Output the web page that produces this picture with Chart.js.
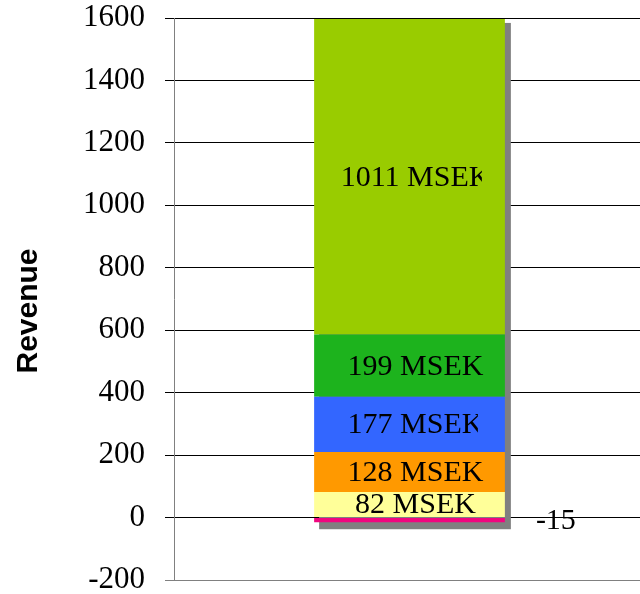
<!DOCTYPE html>
<html>
<head>
<meta charset="utf-8">
<script src="https://cdn.jsdelivr.net/npm/chart.js@4/dist/chart.umd.min.js"></script>
<style>
  html, body { margin: 0; padding: 0; background: #fff; overflow: hidden; }
  #wrap { width: 645px; height: 594px; }
</style>
</head>
<body>
<div id="wrap"><canvas id="c"></canvas></div>
<script>
// Revenue build-up, one stacked column (MSEK)
const categories = [''];
const segmentValues = [-15, 82, 128, 177, 199, 1011];
const segmentColors = ['#F0067F', '#FFFF99', '#FF9900', '#3366FF', '#1DB31D', '#99CC00'];
const yMin = -200;
const yMax = 1600;
const yStep = 200;
const axisTitle = 'Revenue';

function segmentText(v) {
  return v < 0 ? String(v) : v + ' MSEK';
}

// gray drop shadow behind the whole column
const shadowPlugin = {
  id: 'columnShadow',
  beforeDatasetsDraw(chart) {
    const ctx = chart.ctx;
    let top = Infinity, bottom = -Infinity, left = 0, right = 0;
    chart.data.datasets.forEach((ds, i) => {
      const bar = chart.getDatasetMeta(i).data[0];
      if (!bar) return;
      top = Math.min(top, bar.y, bar.base);
      bottom = Math.max(bottom, bar.y, bar.base);
      left = bar.x - bar.width / 2;
      right = bar.x + bar.width / 2;
    });
    ctx.save();
    ctx.fillStyle = '#808080';
    ctx.fillRect(left + 5, top + 4, right - left + 1, bottom - top + 3);
    ctx.restore();
  }
};

// value labels inside each segment; the negative one sits beside the column
const labelPlugin = {
  id: 'segmentLabels',
  afterDatasetsDraw(chart, args, opts) {
    const ctx = chart.ctx;
    ctx.save();
    ctx.font = '30px "Liberation Serif", "Times New Roman", serif';
    ctx.fillStyle = '#000';
    ctx.textAlign = 'center';
    ctx.textBaseline = 'middle';
    chart.data.datasets.forEach((ds, i) => {
      const bar = chart.getDatasetMeta(i).data[0];
      const v = ds.data[0];
      const cy = (bar.y + bar.base) / 2;
      const right = bar.x + bar.width / 2;
      const text = segmentText(v);
      if (v < 0) {
        ctx.fillText(text, right + 51, cy + 1);
        return;
      }
      ctx.save();
      const cut = opts.clipInset[i];
      if (cut) {
        ctx.beginPath();
        ctx.rect(bar.x - bar.width / 2, cy - 30, bar.width - cut, 60);
        ctx.clip();
      }
      ctx.fillText(text, bar.x + 6, cy + 1);
      ctx.restore();
    });
    ctx.restore();
  }
};

// rotated axis title
const titlePlugin = {
  id: 'axisTitle',
  afterDraw(chart) {
    const ctx = chart.ctx;
    const area = chart.chartArea;
    ctx.save();
    ctx.translate(29, (area.top + area.bottom) / 2 + 12);
    ctx.rotate(-Math.PI / 2);
    ctx.font = 'bold 30px "Liberation Sans", Arial, sans-serif';
    ctx.fillStyle = '#000';
    ctx.textAlign = 'center';
    ctx.textBaseline = 'middle';
    ctx.fillText(axisTitle, 0, 0);
    ctx.restore();
  }
};

new Chart(document.getElementById('c'), {
  type: 'bar',
  data: {
    labels: categories,
    datasets: segmentValues.map((v, i) => ({
      data: [v],
      backgroundColor: segmentColors[i],
      borderWidth: 0,
      barPercentage: 0.405,
      categoryPercentage: 1
    }))
  },
  plugins: [shadowPlugin, labelPlugin, titlePlugin],
  options: {
    responsive: true,
    maintainAspectRatio: false,
    animation: false,
    devicePixelRatio: 1,
    layout: { padding: { top: 18, bottom: 14, left: 0, right: 0 } },
    plugins: {
      legend: { display: false },
      tooltip: { enabled: false },
      segmentLabels: { clipInset: [0, 0, 0, 27, 0, 23] }
    },
    scales: {
      x: {
        stacked: true,
        display: false
      },
      y: {
        stacked: true,
        min: yMin,
        max: yMax,
        ticks: {
          stepSize: yStep,
          padding: 20,
          color: '#000',
          callback: (v) => String(v),
          font: { family: '"Liberation Serif", "Times New Roman", serif', size: 31, lineHeight: 1 }
        },
        grid: {
          color: (c) => (c.tick && c.tick.value === yMin ? '#808080' : '#000'),
          lineWidth: 1,
          tickLength: 9,
          drawTicks: true
        },
        border: { display: true, color: '#808080', width: 1 },
        afterFit(scale) {
          scale.width = 174;
          scale.paddingTop = 0;
          scale.paddingBottom = 0;
        }
      }
    }
  }
});
</script>
</body>
</html>
